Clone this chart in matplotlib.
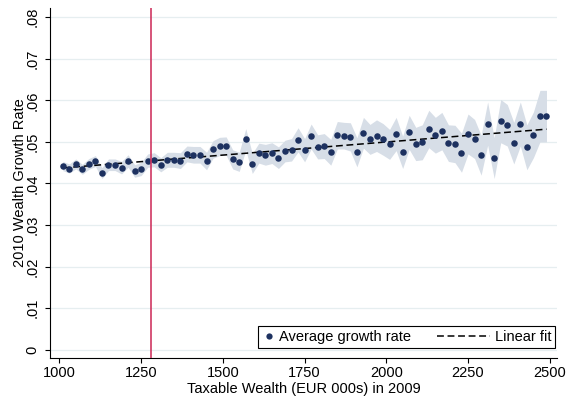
import numpy as np
import matplotlib
matplotlib.use("Agg")
import matplotlib.pyplot as plt
from matplotlib.legend_handler import HandlerLine2D
from matplotlib.lines import Line2D

plt.rcParams["font.family"] = ["Liberation Sans", "DejaVu Sans"]

# bin midpoints of taxable wealth (EUR 000s)
wealth = np.arange(1010, 2500, 20)

growth = [
    0.0442, 0.0436, 0.0447, 0.0434, 0.0447, 0.0454, 0.0425, 0.0445, 0.0445, 0.0438,
    0.0454, 0.0430, 0.0435, 0.0455, 0.0457, 0.0445, 0.0457, 0.0457, 0.0455, 0.0471,
    0.0469, 0.0469, 0.0454, 0.0482, 0.0489, 0.0490, 0.0458, 0.0452, 0.0506, 0.0448,
    0.0473, 0.0469, 0.0473, 0.0462, 0.0478, 0.0481, 0.0505, 0.0480, 0.0513, 0.0488,
    0.0490, 0.0475, 0.0516, 0.0515, 0.0512, 0.0475, 0.0522, 0.0506, 0.0515, 0.0506,
    0.0494, 0.0519, 0.0475, 0.0523, 0.0495, 0.0499, 0.0531, 0.0516, 0.0526, 0.0497,
    0.0495, 0.0474, 0.0519, 0.0507, 0.0468, 0.0544, 0.0461, 0.0550, 0.0540, 0.0497,
    0.0543, 0.0487, 0.0517, 0.0562, 0.0562,
]

# half-width of the 95% CI per bin
ci_half = [
    0.0011, 0.0011, 0.0012, 0.0012, 0.0013, 0.0013, 0.0013, 0.0014, 0.0014,
    0.0015, 0.0015, 0.0015, 0.0016, 0.0016, 0.0017, 0.0017, 0.0018, 0.0018, 0.0019,
    0.0019, 0.0020, 0.0020, 0.0021, 0.0021, 0.0022, 0.0022, 0.0023, 0.0023, 0.0026,
    0.0024, 0.0024, 0.0025, 0.0025, 0.0026, 0.0026, 0.0027, 0.0029, 0.0028, 0.0030,
    0.0029, 0.0030, 0.0031, 0.0033, 0.0032, 0.0034, 0.0035, 0.0037, 0.0036, 0.0038,
    0.0038, 0.0036, 0.0040, 0.0039, 0.0041, 0.0040, 0.0042, 0.0045, 0.0043, 0.0045,
    0.0044, 0.0045, 0.0047, 0.0048, 0.0047, 0.0048, 0.0052, 0.0049, 0.0052, 0.0050,
    0.0050, 0.0053, 0.0054, 0.0055, 0.0062, 0.0062,
]

threshold = 1280
xticks = [1000, 1250, 1500, 1750, 2000, 2250, 2500]
yticks = [0, 0.01, 0.02, 0.03, 0.04, 0.05, 0.06, 0.07, 0.08]
ytick_labels = ["0", ".01", ".02", ".03", ".04", ".05", ".06", ".07", ".08"]

NAVY = "#1d3160"
BAND = "#d7dee7"
RED = "#cf3762"


class RightMarkerHandler(HandlerLine2D):
    # put the marker at the right end of its (short) handle box
    def create_artists(self, legend, orig_handle, xdescent, ydescent,
                       width, height, fontsize, trans):
        arts = super().create_artists(legend, orig_handle, xdescent, ydescent,
                                      width, height, fontsize, trans)
        for a in arts:
            a.set_xdata([-xdescent + width - 0.35 * fontsize])
        return arts


class LongDashHandler(HandlerLine2D):
    # dashed sample that reaches back into the column gap
    def create_artists(self, legend, orig_handle, xdescent, ydescent,
                       width, height, fontsize, trans):
        y = (height - ydescent) / 2.0
        line = Line2D([-xdescent - 2.8 * fontsize, -xdescent + 0.85 * fontsize], [y, y])
        self.update_prop(line, orig_handle, legend)
        line.set_transform(trans)
        return [line]


fig = plt.figure(figsize=(5.66, 4.01), dpi=100)
ax = fig.add_axes([0.0883, 0.107, 0.8957, 0.873])

growth_arr = np.array(growth)
half = np.array(ci_half)
ax.fill_between(wealth, growth_arr - half, growth_arr + half,
                color=BAND, lw=0, zorder=1)

coef = np.polyfit(wealth, growth_arr, 1)
fit_line, = ax.plot(wealth, np.polyval(coef, wealth), color="black", lw=1.1,
                    dashes=(4.5, 2.4), zorder=3, label="Linear fit")

pts = ax.scatter(wealth, growth_arr, s=22, color=NAVY, zorder=4,
                 linewidths=0)

ax.axvline(threshold, color=RED, lw=1.2, zorder=5)

ax.set_xlim(971, 2522)
ax.set_ylim(-0.002, 0.0822)
ax.set_xticks(xticks)
ax.set_yticks(yticks)
ax.set_yticklabels(ytick_labels, rotation=90, va="center")
ax.tick_params(axis="both", labelsize=10.5, length=3.8, width=0.8,
               direction="out", color="black")
ax.tick_params(axis="x", pad=2)
ax.tick_params(axis="y", pad=4)

for y in yticks:
    ax.axhline(y, color="#e6eef0", lw=0.9, zorder=0)

for s in ["top", "right"]:
    ax.spines[s].set_visible(False)
for s in ["left", "bottom"]:
    ax.spines[s].set_linewidth(0.8)

ax.set_xlabel("Taxable Wealth (EUR 000s) in 2009", fontsize=10.5, labelpad=1)
ax.set_ylabel("2010 Wealth Growth Rate", fontsize=10.5, labelpad=-1)

marker_handle = Line2D([], [], marker="o", ls="none", color=NAVY, markersize=4.5,
                       markeredgewidth=0, label="Average growth rate")
leg = ax.legend(
    [marker_handle, fit_line], ["Average growth rate", "Linear fit"],
    handler_map={marker_handle: RightMarkerHandler(numpoints=1),
                 fit_line: LongDashHandler()},
    ncol=2, loc="lower right", bbox_to_anchor=(0.997, 0.03),
    fontsize=10.5, frameon=True, fancybox=False, edgecolor="black",
    framealpha=1, borderpad=0.25, handlelength=0.9, handletextpad=0.3,
    columnspacing=4.6, borderaxespad=0,
)
leg.get_frame().set_linewidth(0.8)

fig.savefig("out.png", dpi=100)
